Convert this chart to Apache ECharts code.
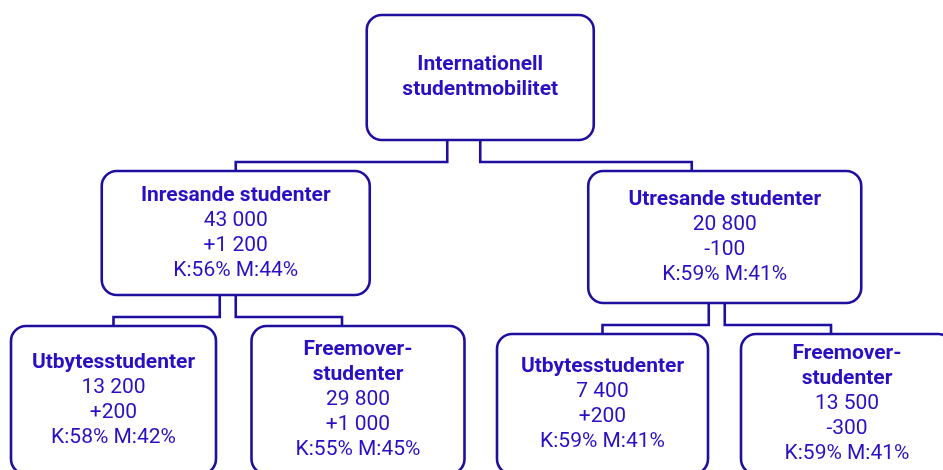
<!DOCTYPE html>
<html>
<head>
<meta charset="utf-8">
<script src="https://cdn.jsdelivr.net/npm/echarts@6/dist/echarts.min.js"></script>
<style>
  html, body { margin: 0; padding: 0; background: #fff; }
  #chart { width: 943px; height: 470px; }
</style>
</head>
<body>
<div id="chart"></div>
<script>
// organisationsschema - data
const nodeNames = ['Internationell\nstudentmobilitet', 'Inresande studenter', 'Utresande studenter',
  'Utbytesstudenter', 'Freemover-\nstudenter', 'Utbytesstudenter', 'Freemover-\nstudenter']
const nodeParents = [-1, 0, 0, 1, 1, 2, 2]
const studentCounts = [null, 43000, 20800, 13200, 29800, 7400, 13500]
const studentChanges = [null, 1200, -100, 200, 1000, 200, -300]
const womenShare = [null, 56, 59, 58, 55, 59, 59]
const menShare = [null, 44, 41, 42, 45, 41, 41]

// utseende
const lineColor = '#1f0f9e'
const textColor = '#2a10c4'
const boxWidth = [227, 268, 273, 205, 213, 211, 212]
const boxHeight = [125, 124, 132, 148, 148, 140, 140]
const rootTop = 15
const levelGap = 31
const linkShift = [33, 16] // förskjutning av kopplingslinjen per nivå

const fmt = (n) => String(Math.abs(n)).replace(/\B(?=(\d{3})+(?!\d))/g, ' ')
const fmtChange = (n) => (n < 0 ? '-' : '+') + fmt(n)

// barn, nivå och plats i trädet
const children = nodeNames.map(() => [])
nodeParents.forEach((p, i) => { if (p >= 0) children[p].push(i) })
const level = nodeParents.map(function lv(p) { return p < 0 ? 0 : lv(nodeParents[p]) + 1 })
const slot = []
let leafCount = 0
function place(i) {
  if (!children[i].length) {
    slot[i] = leafCount++
  } else {
    children[i].forEach(place)
    const c = children[i]
    slot[i] = (slot[c[0]] + slot[c[c.length - 1]]) / 2
  }
}
place(0)
const boxTop = []
nodeNames.forEach((n, i) => {
  const p = nodeParents[i]
  boxTop[i] = p < 0 ? rootTop : boxTop[p] + boxHeight[p] + levelGap
})

function label(i) {
  const lines = nodeNames[i].split('\n').map(s => '{t|' + s + '}')
  if (studentCounts[i] != null) {
    lines.push('{v|' + fmt(studentCounts[i]) + '}')
    lines.push('{v|' + fmtChange(studentChanges[i]) + '}')
    lines.push('{v|K:' + womenShare[i] + '% M:' + menShare[i] + '%}')
  }
  return lines.join('\n')
}

const chart = echarts.init(document.getElementById('chart'))
chart.setOption({
  animation: false,
  grid: { left: 113.5, right: 96, top: 0, bottom: 0 },
  xAxis: { type: 'value', min: 0, max: leafCount - 1, show: false },
  yAxis: { type: 'value', min: 0, max: 470, inverse: true, show: false },
  series: [
    {
      type: 'custom',
      clip: false,
      data: nodeNames.map((n, i) => [slot[i], boxTop[i], i]),
      renderItem(params, api) {
        const i = api.value(2)
        const [cx, y0] = api.coord([api.value(0), api.value(1)])
        const w = boxWidth[i], h = boxHeight[i]
        const els = []
        const p = nodeParents[i]
        if (p >= 0) {
          const [px, py] = api.coord([slot[p], boxTop[p]])
          const first = children[p][0] === i
          const pAttach = first ? px - linkShift[level[p]] : px
          const cAttach = first ? cx : cx - linkShift[level[p]]
          const yh = y0 - 9
          els.push({
            type: 'polyline',
            shape: { points: [[pAttach, py + boxHeight[p]], [pAttach, yh], [cAttach, yh], [cAttach, y0]] },
            style: { stroke: lineColor, lineWidth: 2.6, fill: null }
          })
        }
        els.push({
          type: 'rect',
          shape: { x: cx - w / 2, y: y0, width: w, height: h, r: 15 },
          style: { fill: '#fff', stroke: lineColor, lineWidth: 2.6 }
        })
        els.push({
          type: 'text',
          x: cx,
          y: y0 + h / 2,
          style: {
            text: label(i),
            align: 'center',
            verticalAlign: 'middle',
            rich: {
              t: { fontFamily: 'Roboto', fontWeight: 'bold', fontSize: 21, lineHeight: 25, fill: textColor, align: 'center' },
              v: { fontFamily: 'Roboto', fontSize: 21, lineHeight: 25, fill: textColor, align: 'center' }
            }
          }
        })
        return { type: 'group', children: els }
      }
    }
  ]
})
</script>
</body>
</html>
